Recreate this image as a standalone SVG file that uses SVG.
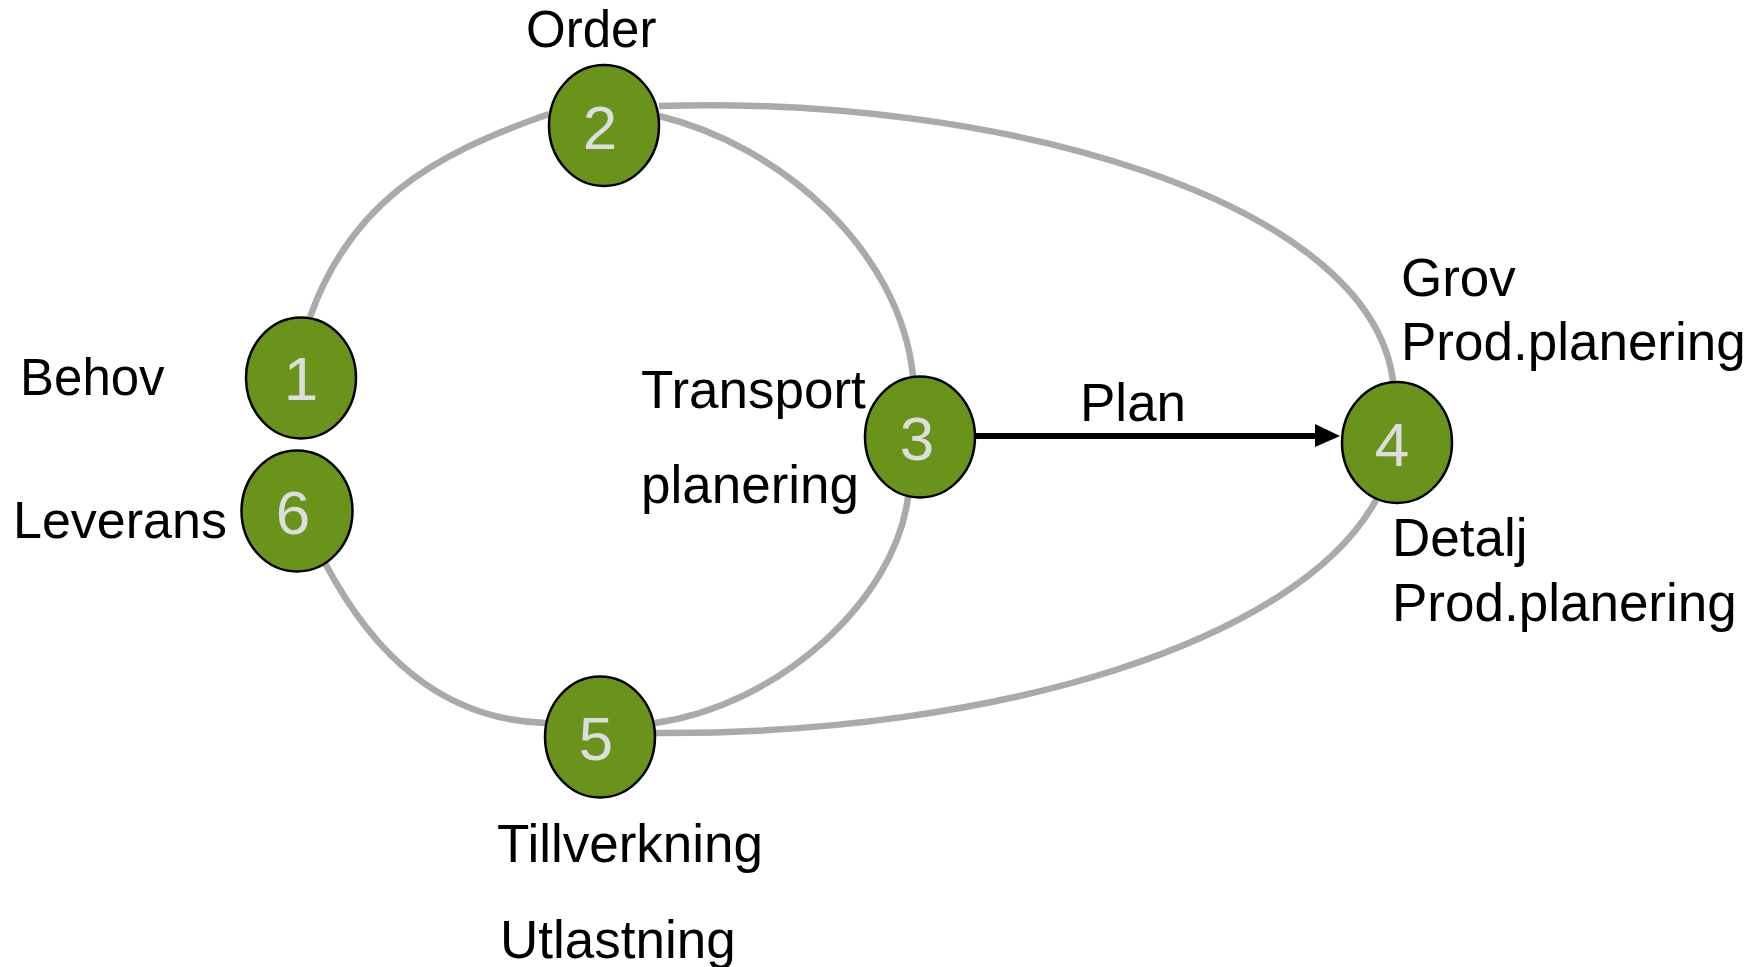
<svg xmlns="http://www.w3.org/2000/svg" width="1763" height="967" viewBox="0 0 1763 967">
<style>
.edge{fill:none;stroke:#aaaaaa;stroke-width:6.5}
.node ellipse{fill:#6a931c;stroke:#000;stroke-width:2.5}
.num{font-family:"Liberation Sans",Arial,sans-serif;font-size:62px;fill:#dddddd;text-anchor:middle}
.lbl{font-family:"Liberation Sans",Arial,sans-serif;font-size:53px;fill:#000}
.sm{font-size:51px}
</style>
<rect width="1763" height="967" fill="#fff"/>
<g id="connectors">
<path class="edge" d="M310,317 C350,205 428,156 549,114"/>
<path class="edge" d="M659,116 C780,145 900,250 913,376"/>
<path class="edge" d="M659,106 C1000,95 1370,200 1393,381"/>
<path class="edge" d="M908,497 C895,600 780,705 655,723"/>
<path class="edge" d="M1376,500 C1300,640 1000,735 655,733"/>
<path class="edge" d="M325,563 C372,652 440,720 546,723"/>
<line x1="975" y1="436" x2="1318" y2="436" stroke="#000" stroke-width="6"/>
<polygon points="1315,424 1340,436 1315,447" fill="#000"/>
<text class="lbl" x="1080" y="421">Plan</text>
</g>
<g id="node1" class="node"><ellipse cx="301" cy="378" rx="55" ry="60.5"/><text class="num" x="301" y="400">1</text><text class="lbl sm" x="20" y="395">Behov</text></g>
<g id="node2" class="node"><ellipse cx="604" cy="125.5" rx="55" ry="60.5"/><text class="num" x="600" y="149">2</text><text class="lbl sm" x="526" y="47">Order</text></g>
<g id="node3" class="node"><ellipse cx="920" cy="437" rx="55" ry="60.5"/><text class="num" x="917" y="460">3</text><text class="lbl" x="641" y="408">Transport</text><text class="lbl" x="641" y="503">planering</text></g>
<g id="node4" class="node"><ellipse cx="1397" cy="442.5" rx="55" ry="60.5"/><text class="num" x="1392" y="466">4</text><text class="lbl" x="1401" y="296">Grov</text><text class="lbl" x="1401" y="360">Prod.planering</text><text class="lbl" x="1392" y="556">Detalj</text><text class="lbl" x="1392" y="621">Prod.planering</text></g>
<g id="node5" class="node"><ellipse cx="600" cy="737" rx="55" ry="60.5"/><text class="num" x="596" y="760">5</text><text class="lbl" x="497" y="862">Tillverkning</text><text class="lbl" x="500" y="958">Utlastning</text></g>
<g id="node6" class="node"><ellipse cx="297" cy="511" rx="55.5" ry="60.5"/><text class="num" x="293" y="534">6</text><text class="lbl" x="13" y="538" style="font-size:52px">Leverans</text></g>
</svg>
